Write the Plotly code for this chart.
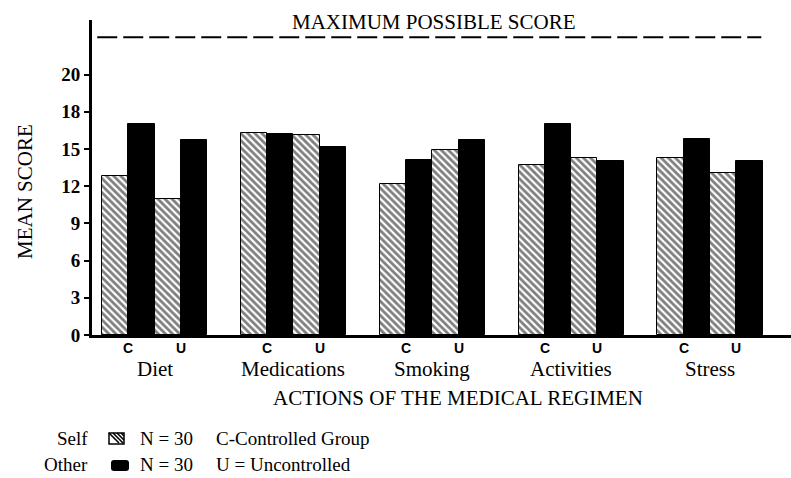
import plotly.graph_objects as go

categories = ["Diet", "Medications", "Smoking", "Activities", "Stress"]
groups = ["C", "U"]
# values per category: [C, U]
self_vals = [[12.8, 11.0], [16.3, 16.1], [12.2, 14.9], [13.7, 14.3], [14.3, 13.1]]
other_vals = [[17.0, 15.7], [16.2, 15.2], [14.1, 15.75], [17.0, 14.0], [15.8, 14.0]]
max_score = 24
y_tickvals = [0, 3, 6, 9, 12, 15, 18, 21]
y_ticktext = ["0", "3", "6", "9", "12", "15", "18", "20"]
legend_rows = [("Self", "N = 30", "C-Controlled Group"), ("Other", "N = 30", "U = Uncontrolled")]

W, H = 791, 478
ML, MR, MT, MB = 92, 0, 20, 143
PW, PH = W - ML - MR, H - MT - MB


def px(x):
    return (x - ML) / PW


def py(y):
    return (H - MB - y) / PH


pitch = 5.28
serif = "Liberation Serif, Times New Roman, serif"
sans = "Liberation Sans, Arial, sans-serif"

self_x, self_y, other_x, other_y = [], [], [], []
for i, cat in enumerate(categories):
    for g in range(2):
        self_x.append(i * pitch + 2 * g)
        self_y.append(self_vals[i][g])
        other_x.append(i * pitch + 2 * g + 1)
        other_y.append(other_vals[i][g])

fig = go.Figure()
fig.add_trace(go.Bar(
    x=self_x, y=self_y, width=1, name="Self",
    marker=dict(color="white", line=dict(color="black", width=1),
                pattern=dict(shape="\\", fgcolor="black", bgcolor="white", size=5, solidity=0.55)),
))
fig.add_trace(go.Bar(
    x=other_x, y=other_y, width=1, name="Other",
    marker=dict(color="black", line=dict(color="black", width=1)),
))

fig.add_shape(type="line", xref="x", yref="y", x0=-0.68, x1=4 * pitch + 3.45, y0=max_score, y1=max_score,
              line=dict(color="black", width=2, dash="20px,6px"))

# legend key icons
hx0, hx1, hy0, hy1 = px(109), px(124), py(444), py(433)
fig.add_shape(type="rect", xref="paper", yref="paper", x0=hx0, x1=hx1, y0=hy0, y1=hy1,
              line=dict(color="black", width=1.5), fillcolor="white")
for k in range(4):
    sx = 109 + k * 4
    fig.add_shape(type="line", xref="paper", yref="paper", x0=px(sx), y0=py(433), x1=px(min(sx + 10, 124)),
                  y1=py(433 + (min(sx + 10, 124) - sx)), line=dict(color="black", width=1.6))
fig.add_shape(type="path", xref="paper", yref="paper",
              path=f"M {px(114)} {py(460)} L {px(126)} {py(460)} Q {px(129)} {py(460)} {px(129)} {py(463)} "
                   f"L {px(129)} {py(468)} Q {px(129)} {py(471)} {px(126)} {py(471)} L {px(114)} {py(471)} "
                   f"Q {px(111)} {py(471)} {px(111)} {py(468)} L {px(111)} {py(463)} Q {px(111)} {py(460)} {px(114)} {py(460)} Z",
              fillcolor="black", line=dict(color="black", width=0))

ann = []
ann.append(dict(text="MAXIMUM POSSIBLE SCORE", x=px(434), y=max_score, xref="paper", yref="y",
                yanchor="bottom", yshift=1, showarrow=False, font=dict(family=serif, size=21, color="black")))
for i, cat in enumerate(categories):
    for g, lab in enumerate(groups):
        ann.append(dict(text=lab, x=i * pitch + 2 * g + 0.5, y=0, xref="x", yref="y", yanchor="top",
                        yshift=-3, showarrow=False, font=dict(family=sans, size=14, color="black", weight="bold")))
    ann.append(dict(text=cat, x=i * pitch + 1.5, y=0, xref="x", yref="y", yanchor="top", yshift=-20,
                    showarrow=False, font=dict(family=serif, size=21, color="black")))
ann.append(dict(text="ACTIONS OF THE MEDICAL REGIMEN", x=px(458), y=py(398), xref="paper", yref="paper",
                yanchor="middle", showarrow=False, font=dict(family=serif, size=21, color="black")))
ann.append(dict(text="MEAN SCORE", x=px(25), y=py(192), xref="paper", yref="paper", textangle=-90,
                xanchor="center", yanchor="middle", showarrow=False, font=dict(family=serif, size=21, color="black")))
for r, (name, n, desc) in enumerate(legend_rows):
    yy = py(438 + r * 27)
    ann.append(dict(text=name, x=px(90), y=yy, xref="paper", yref="paper", showarrow=False, xanchor="right",
                    yanchor="middle", font=dict(family=serif, size=19, color="black")))
    ann.append(dict(text=n, x=px(138), y=yy, xref="paper", yref="paper", showarrow=False, xanchor="left",
                    yanchor="middle", font=dict(family=serif, size=19, color="black")))
    ann.append(dict(text=desc, x=px(214), y=yy, xref="paper", yref="paper", showarrow=False, xanchor="left",
                    yanchor="middle", font=dict(family=serif, size=19, color="black")))

fig.update_layout(
    width=W, height=H,
    margin=dict(l=ML, r=MR, t=MT, b=MB),
    plot_bgcolor="white", paper_bgcolor="white",
    barmode="overlay", bargap=0,
    annotations=ann,
    showlegend=False,
    xaxis=dict(range=[-0.88, 25.7], showline=True, linecolor="black", linewidth=3, showticklabels=False,
               ticks="", showgrid=False, zeroline=False, fixedrange=True, automargin=False),
    yaxis=dict(range=[0, 25.4], showline=True, linecolor="black", linewidth=3, tickvals=y_tickvals,
               ticktext=y_ticktext, ticks="outside", ticklen=5, tickwidth=2, tickcolor="black",
               showgrid=False, zeroline=False, automargin=False,
               tickfont=dict(family=serif, size=19, color="black", weight="bold")),
)

fig.write_html("out.html", config={"displayModeBar": False},
               post_script="document.body.style.margin='0';document.body.style.overflow='hidden';")
